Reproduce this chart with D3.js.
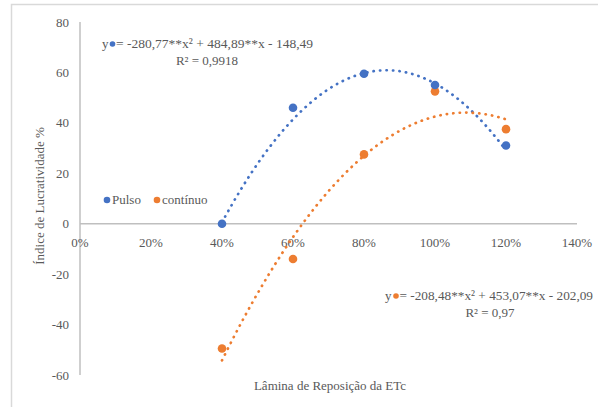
<!DOCTYPE html>
<html>
<head>
<meta charset="utf-8">
<script src="https://cdn.jsdelivr.net/npm/d3@7"></script>
<style>
  body { margin: 0; background: #fff; }
  text { font-family: "Liberation Serif", "Times New Roman", serif; fill: #595959; }
</style>
</head>
<body>
<script>
// data
const laminas = [0.4, 0.6, 0.8, 1.0, 1.2];
const pulso = [0, 46, 59.5, 55, 31];
const continuo = [-49.5, -14, 27.5, 52.5, 37.5];
// trend coefficients as printed on the chart [a, b, c] for a*x^2 + b*x + c
const coefPulso = [-280.77, 484.89, -148.49];
const coefContinuo = [-208.48, 453.07, -202.09];
const xTicks = [0, 0.2, 0.4, 0.6, 0.8, 1.0, 1.2, 1.4];
const yTicks = [-60, -40, -20, 0, 20, 40, 60, 80];

const width = 598, height = 407;
const blue = "#4472C4", orange = "#ED7D31";

const svg = d3.select("body").append("svg")
    .attr("width", width)
    .attr("height", height);

// outer chart border (only top & left visible)
svg.append("path")
    .attr("d", "M11.5,420 V4.5 H620")
    .attr("fill", "none")
    .attr("stroke", "#d9d9d9")
    .attr("stroke-width", 1.5);

const x = d3.scaleLinear().domain([0, 1.4]).range([80, 577]);
const y = d3.scaleLinear().domain([-60, 80]).range([375, 22]);

// axes lines
svg.append("line")
    .attr("x1", x(0)).attr("x2", x(0))
    .attr("y1", y(80)).attr("y2", y(-60))
    .attr("stroke", "#bfbfbf").attr("stroke-width", 1.5);
svg.append("line")
    .attr("x1", x(0)).attr("x2", x(1.4))
    .attr("y1", y(0)).attr("y2", y(0))
    .attr("stroke", "#bfbfbf").attr("stroke-width", 1.5);

// tick labels
svg.selectAll(".ytick")
    .data(yTicks)
    .enter().append("text")
    .attr("class", "ytick")
    .attr("x", 69)
    .attr("y", d => y(d) + 4.5)
    .attr("text-anchor", "end")
    .style("font-size", "13px")
    .text(d => d);

svg.selectAll(".xtick")
    .data(xTicks)
    .enter().append("text")
    .attr("class", "xtick")
    .attr("x", d => x(d))
    .attr("y", 247)
    .attr("text-anchor", "middle")
    .style("font-size", "13px")
    .text(d => d3.format(".0%")(d));

// axis titles
svg.append("text")
    .attr("transform", "translate(44,196) rotate(-90)")
    .attr("text-anchor", "middle")
    .style("font-size", "13px")
    .text("Índice de Lucratividade %");

svg.append("text")
    .attr("x", 330)
    .attr("y", 390)
    .attr("text-anchor", "middle")
    .style("font-size", "13px")
    .text("Lâmina de Reposição da ETc");

// trend lines
const trend = function(coef, color) {
    const pts = d3.range(0, 161).map(i => {
        const xv = 0.4 + i * 0.8 / 160;
        return [xv, coef[0] * xv * xv + coef[1] * xv + coef[2]];
    });
    svg.append("path")
        .datum(pts)
        .attr("d", d3.line().x(d => x(d[0])).y(d => y(d[1])))
        .attr("fill", "none")
        .attr("stroke", color)
        .attr("stroke-width", 2.7)
        .attr("stroke-linecap", "round")
        .attr("stroke-dasharray", "0.3,6.2");
};
trend(coefPulso, blue);
trend(coefContinuo, orange);

// markers
const markers = function(vals, color) {
    svg.append("g").selectAll("circle")
        .data(vals)
        .enter().append("circle")
        .attr("cx", (d, i) => x(laminas[i]))
        .attr("cy", d => y(d))
        .attr("r", 4.3)
        .style("fill", color);
};
markers(continuo, orange);
markers(pulso, blue);

// legend
const legend = [{name: "Pulso", color: blue, x: 107}, {name: "contínuo", color: orange, x: 157}];
legend.forEach(l => {
    svg.append("circle").attr("cx", l.x).attr("cy", 200).attr("r", 3.3).style("fill", l.color);
    svg.append("text").attr("x", l.x + 5).attr("y", 204)
        .style("font-size", "13px")
        .text(l.name);
});

// equation labels
const eq = function(yx, yy, dotX, dotColor, rest, restEnd, r2, r2x) {
    svg.append("text").attr("x", yx).attr("y", yy).style("font-size", "13px").text("y");
    svg.append("circle").attr("cx", dotX).attr("cy", yy - 4).attr("r", 2.8).style("fill", dotColor);
    svg.append("text").attr("x", dotX + 3.5).attr("y", yy)
        .style("font-size", "13.5px")
        .attr("textLength", restEnd - dotX - 3.5)
        .attr("lengthAdjust", "spacingAndGlyphs")
        .text(rest);
    svg.append("text").attr("x", r2x).attr("y", yy + 17)
        .attr("text-anchor", "middle")
        .style("font-size", "13px")
        .text(r2);
};
eq(102, 48, 112.5, blue, " = -280,77**x² + 484,89**x - 148,49", 313, "R² = 0,9918", 207);
eq(385, 300, 396, orange, "= -208,48**x² + 453,07**x - 202,09", 593, "R² = 0,97", 490);
</script>
</body>
</html>
